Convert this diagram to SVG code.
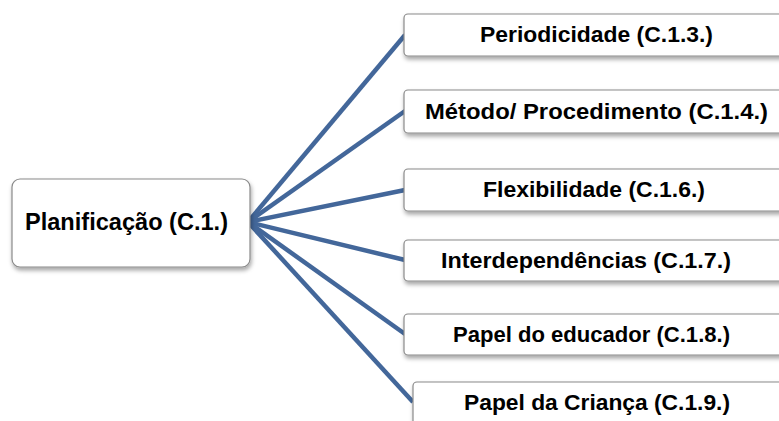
<svg xmlns="http://www.w3.org/2000/svg" width="779" height="421" viewBox="0 0 779 421">
  <defs>
    <filter id="shadow" x="-10%" y="-20%" width="130%" height="160%">
      <feDropShadow dx="1" dy="3" stdDeviation="2" flood-color="#000" flood-opacity="0.35"/>
    </filter>
  </defs>
  <style>
    .box { fill: #ffffff; stroke: #8a8a8a; stroke-width: 1.2; filter: url(#shadow); }
    .lbl { font-family: "Liberation Sans", Arial, sans-serif; font-weight: bold; font-size: 22px; fill: #000; text-anchor: middle; }
    .big { font-size: 23px; }
    .link { stroke: #43679a; stroke-width: 4.5; fill: none; stroke-linecap: butt; }
  </style>
  <rect width="779" height="421" fill="#ffffff"/>

  <g id="connectors">
    <line class="link" x1="248" y1="222" x2="405" y2="35"/>
    <line class="link" x1="248" y1="222" x2="405" y2="111"/>
    <line class="link" x1="248" y1="222" x2="405" y2="190"/>
    <line class="link" x1="248" y1="222" x2="405" y2="260"/>
    <line class="link" x1="248" y1="222" x2="405" y2="334"/>
    <line class="link" x1="248" y1="222" x2="413" y2="402"/>
  </g>

  <g id="planificacao">
    <rect class="box" x="12" y="179" width="238" height="88" rx="8"/>
    <text class="lbl big" x="126.5" y="230" textLength="203" lengthAdjust="spacingAndGlyphs">Planificação (C.1.)</text>
  </g>

  <g id="periodicidade">
    <rect class="box" x="404" y="14" width="390" height="42" rx="4"/>
    <text class="lbl" x="596.5" y="42" textLength="233" lengthAdjust="spacingAndGlyphs">Periodicidade (C.1.3.)</text>
  </g>

  <g id="metodo">
    <rect class="box" x="404" y="90" width="390" height="43" rx="4"/>
    <text class="lbl" x="596.5" y="119" textLength="343" lengthAdjust="spacingAndGlyphs">Método/ Procedimento (C.1.4.)</text>
  </g>

  <g id="flexibilidade">
    <rect class="box" x="404" y="169" width="390" height="42" rx="4"/>
    <text class="lbl" x="594" y="197" textLength="222" lengthAdjust="spacingAndGlyphs">Flexibilidade (C.1.6.)</text>
  </g>

  <g id="interdependencias">
    <rect class="box" x="404" y="240" width="390" height="41" rx="4"/>
    <text class="lbl" x="586" y="268" textLength="290" lengthAdjust="spacingAndGlyphs">Interdependências (C.1.7.)</text>
  </g>

  <g id="papel-educador">
    <rect class="box" x="404" y="314" width="390" height="41" rx="4"/>
    <text class="lbl" x="591.5" y="342" textLength="277" lengthAdjust="spacingAndGlyphs">Papel do educador (C.1.8.)</text>
  </g>

  <g id="papel-crianca">
    <rect class="box" x="413" y="382" width="390" height="50" rx="4"/>
    <text class="lbl" x="597" y="410" textLength="266" lengthAdjust="spacingAndGlyphs">Papel da Criança (C.1.9.)</text>
  </g>
</svg>
